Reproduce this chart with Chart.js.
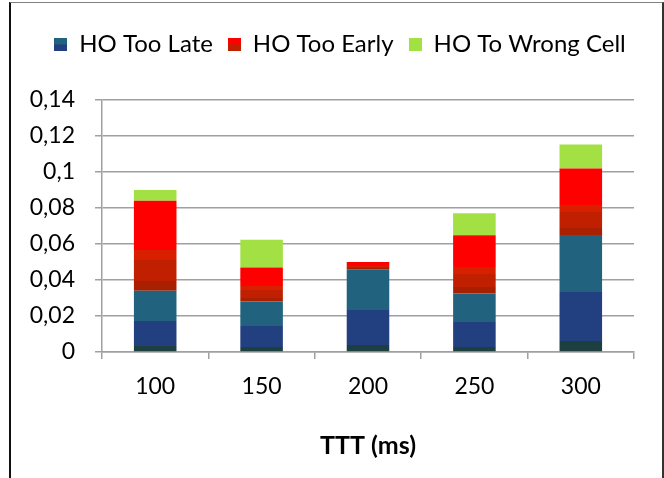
<!DOCTYPE html>
<html>
<head>
<meta charset="utf-8">
<script src="https://cdn.jsdelivr.net/npm/chart.js@4.4.1/dist/chart.umd.min.js"></script>
<style>
  html, body { margin: 0; padding: 0; background: #fff; overflow: hidden; }
  #wrap { position: relative; width: 664px; height: 478px; }
  #frame {
    position: absolute; left: 9px; top: 2px; width: 655px; height: 520px;
    box-sizing: border-box; border-left: 2px solid #111; border-top: 1px solid #808080;
    border-right: 2px solid #333; pointer-events: none;
  }
  canvas { position: absolute; left: 0; top: 0; }
</style>
</head>
<body>
<div id="wrap">
  <canvas id="c" width="664" height="478"></canvas>
  <div id="frame"></div>
</div>
<script>
// TTT values (ms) on the x axis
const categories = ['100', '150', '200', '250', '300'];

// Handover failure ratios per TTT
const hoTooLate   = [0.034, 0.028, 0.046, 0.0325, 0.065];
const hoTooEarly  = [0.050, 0.019, 0.004, 0.0324, 0.037];
const hoWrongCell = [0.006, 0.0153, 0.0, 0.0122, 0.0133];

// Decimal-comma tick labels for 0 .. 0.14
const yTickLabels = ['0', '0,02', '0,04', '0,06', '0,08', '0,1', '0,12', '0,14'];

// Banded vertical fills, offsets measured from the bottom of each segment
const lateBands = [
  [0, '#1e3f40'], [0.09, '#1e3f40'], [0.09, '#223f7f'], [0.51, '#223f7f'],
  [0.51, '#21627f'], [1, '#21627f']
];
const earlyBands = [
  [0, '#a82000'], [0.11, '#a82000'], [0.11, '#c02000'], [0.34, '#c02000'],
  [0.34, '#d82000'], [0.45, '#d82000'], [0.45, '#ff0000'], [1, '#ff0000']
];
const wrongColor = '#a3e044';

function bandFill(bands) {
  return (ctx) => {
    const chart = ctx.chart;
    const y = chart.scales && chart.scales.y;
    if (!chart.chartArea || !y || ctx.type !== 'data') return bands[bands.length - 1][1];
    const i = ctx.dataIndex;
    let base = 0;
    for (let d = 0; d < ctx.datasetIndex; d++) base += chart.data.datasets[d].data[i];
    const top = base + chart.data.datasets[ctx.datasetIndex].data[i];
    const y0 = y.getPixelForValue(base);
    const y1 = y.getPixelForValue(top);
    if (Math.abs(y0 - y1) < 0.5) return bands[bands.length - 1][1];
    const g = chart.ctx.createLinearGradient(0, y0, 0, y1);
    bands.forEach(([o, c]) => g.addColorStop(o, c));
    return g;
  };
}

// Small legend swatches
function swatch(top, bottom) {
  const cv = document.createElement('canvas');
  cv.width = 13; cv.height = 13;
  const c = cv.getContext('2d');
  c.fillStyle = top; c.fillRect(0, 0, 13, 7);
  c.fillStyle = bottom; c.fillRect(0, 7, 13, 6);
  return cv;
}
const legendSwatches = [
  swatch('#21627f', '#223f7f'),
  swatch('#ff0000', '#c02000'),
  swatch(wrongColor, wrongColor)
];

// Room between legend and plot, and a small rightward shift of the legend row
const legendPlacement = {
  id: 'legendPlacement',
  beforeInit(chart) {
    const fit = chart.legend.fit;
    chart.legend.fit = function () { fit.call(this); this.height += 34; };
  },
  afterLayout(chart) {
    chart.legend.left += 13;
    chart.legend.right += 13;
  }
};

function draw() {
  Chart.defaults.font.family = 'Lato, "Open Sans", sans-serif';
  Chart.defaults.font.size = 23;
  Chart.defaults.color = '#000';

  new Chart(document.getElementById('c'), {
    type: 'bar',
    data: {
      labels: categories,
      datasets: [
        { label: 'HO Too Late', data: hoTooLate, backgroundColor: bandFill(lateBands) },
        { label: 'HO Too Early', data: hoTooEarly, backgroundColor: bandFill(earlyBands) },
        { label: 'HO To Wrong Cell', data: hoWrongCell, backgroundColor: wrongColor }
      ]
    },
    options: {
      responsive: false,
      animation: false,
      layout: { padding: { left: 20, right: 30, top: 17, bottom: 0 } },
      datasets: { bar: { barPercentage: 0.4, categoryPercentage: 1, borderWidth: 0 } },
      plugins: {
        tooltip: { enabled: false },
        legend: {
          position: 'top',
          labels: {
            usePointStyle: true,
            boxWidth: 13,
            boxHeight: 13,
            padding: 15,
            color: '#000',
            font: { size: 24 },
            generateLabels(chart) {
              return chart.data.datasets.map((ds, i) => ({
                text: ds.label,
                pointStyle: legendSwatches[i],
                fillStyle: 'transparent',
                strokeStyle: 'transparent',
                lineWidth: 0,
                hidden: false,
                datasetIndex: i
              }));
            }
          }
        }
      },
      scales: {
        x: {
          stacked: true,
          afterFit(scale) { scale.height = 126; },
          grid: {
            display: true, drawOnChartArea: false, drawTicks: true,
            tickLength: 7, color: '#a0a0a0', lineWidth: 1.5
          },
          border: { display: true, color: '#a0a0a0', width: 1.5 },
          ticks: { padding: 14, font: { size: 23 }, color: '#000' },
          title: {
            display: true, text: 'TTT (ms)',
            font: { size: 25, weight: 'bold' }, color: '#000',
            padding: { top: 0, bottom: 17 }
          }
        },
        y: {
          stacked: true,
          min: 0, max: 0.14,
          afterFit(scale) { scale.width = 82; },
          grid: { color: '#a0a0a0', lineWidth: 1.5, tickLength: 7, drawTicks: true },
          border: { display: true, color: '#a0a0a0', width: 1.5 },
          ticks: {
            stepSize: 0.02, padding: 20, font: { size: 23 }, color: '#000',
            callback: (v, i) => yTickLabels[i]
          }
        }
      }
    },
    plugins: [legendPlacement]
  });
}

if (document.fonts && document.fonts.load) {
  Promise.all([
    document.fonts.load('23px Lato'),
    document.fonts.load('24px Lato'),
    document.fonts.load('bold 25px Lato')
  ]).then(draw, draw);
} else {
  draw();
}
</script>
</body>
</html>
